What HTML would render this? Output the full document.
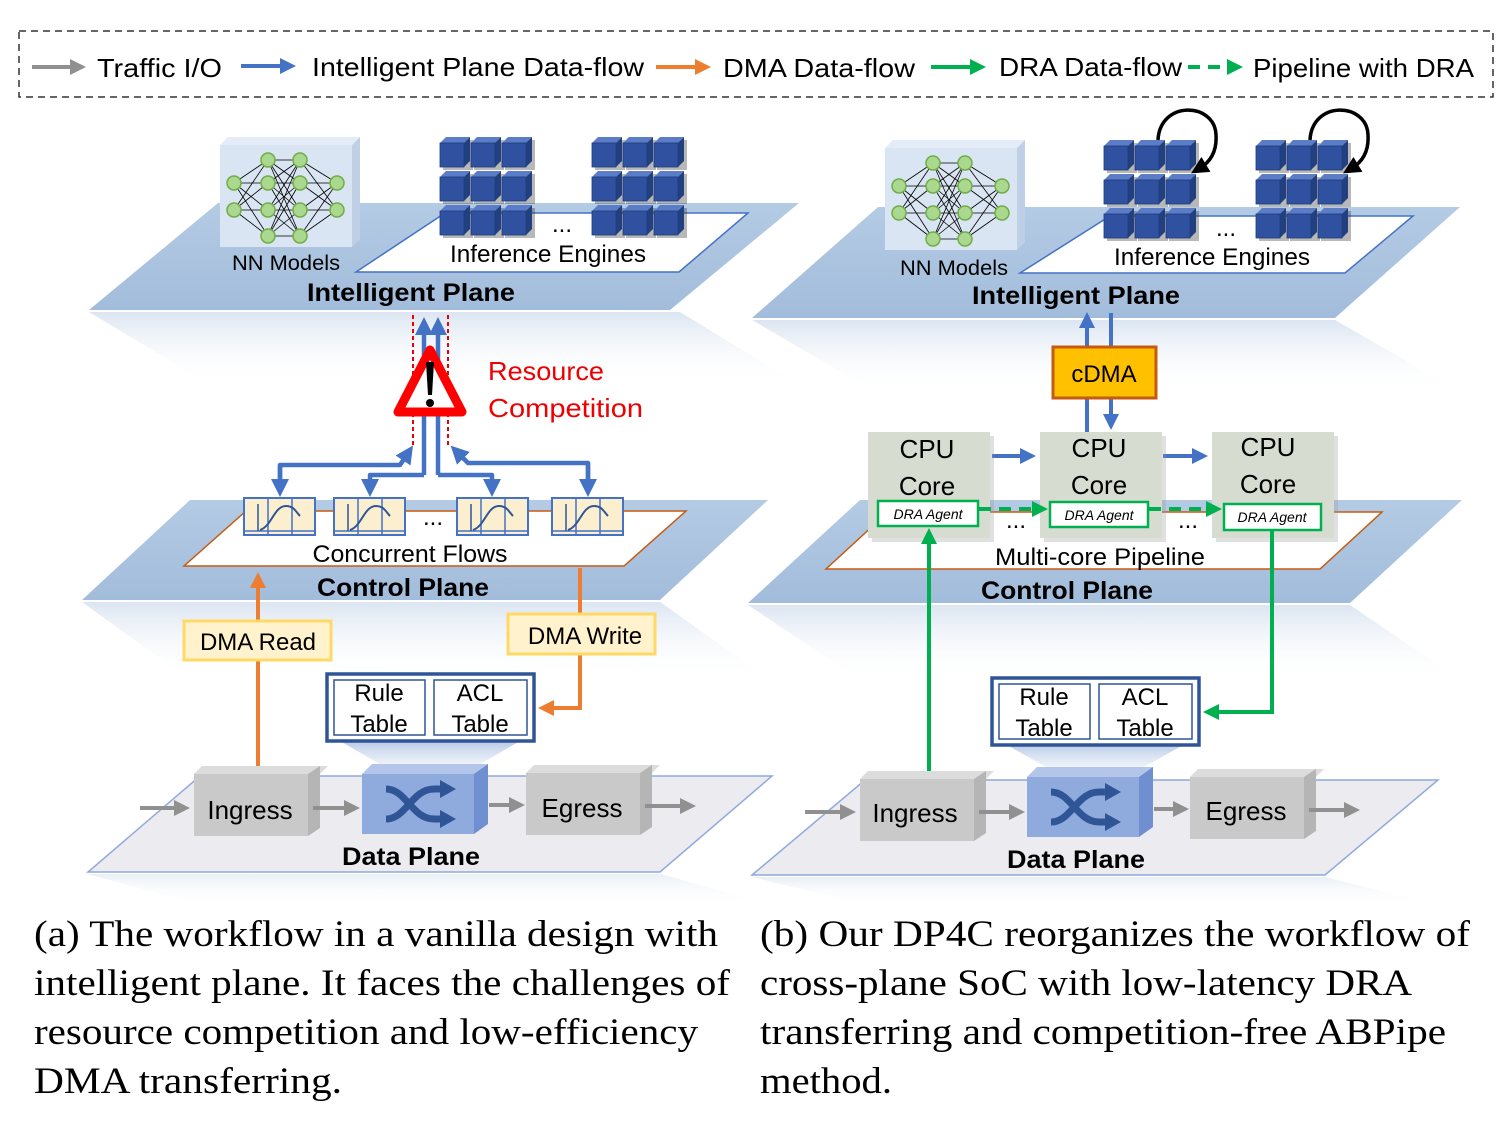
<!DOCTYPE html>
<html><head><meta charset="utf-8"><style>
html,body{margin:0;padding:0;background:#fff;}
svg{display:block;}
text{font-family:"Liberation Sans",sans-serif;}
.cap text{font-family:"Liberation Serif",serif;font-size:37px;fill:#000;}
.lbl{font-size:24px;fill:#000;}
.b{font-size:25px;font-weight:bold;fill:#000;}
</style></head><body>
<svg width="1496" height="1121" viewBox="0 0 1496 1121" xmlns="http://www.w3.org/2000/svg">
<defs>
<marker id="mg" markerWidth="4" markerHeight="4" refX="2" refY="2" orient="auto" markerUnits="strokeWidth"><path d="M0,0L4,2L0,4z" fill="#909090"/></marker>
<marker id="mb" markerWidth="4" markerHeight="4" refX="2" refY="2" orient="auto" markerUnits="strokeWidth"><path d="M0,0L4,2L0,4z" fill="#4472c4"/></marker>
<marker id="mo" markerWidth="4" markerHeight="4" refX="2" refY="2" orient="auto" markerUnits="strokeWidth"><path d="M0,0L4,2L0,4z" fill="#ed7d31"/></marker>
<marker id="mgr" markerWidth="4" markerHeight="4" refX="2" refY="2" orient="auto" markerUnits="strokeWidth"><path d="M0,0L4,2L0,4z" fill="#00b050"/></marker>
<marker id="mk" markerWidth="5" markerHeight="5" refX="2" refY="2.5" orient="auto" markerUnits="strokeWidth"><path d="M0,0L5,2.5L0,5z" fill="#000"/></marker>
<linearGradient id="gp" x1="0" y1="0" x2="0" y2="1"><stop offset="0" stop-color="#b4cbe4"/><stop offset="1" stop-color="#a2bcdb"/></linearGradient>
<linearGradient id="gr" x1="0" y1="0" x2="0" y2="1"><stop offset="0" stop-color="#dbe5f1"/><stop offset="1" stop-color="#ffffff" stop-opacity="0"/></linearGradient>
<linearGradient id="gt" x1="0" y1="0" x2="0" y2="1"><stop offset="0" stop-color="#b7c9e6"/><stop offset="1" stop-color="#dfe7f4" stop-opacity="0.3"/></linearGradient>
<g id="cube"><rect x="3" y="3" width="30" height="30" fill="#333" opacity="0.35"/><polygon points="0,6 6,0 30,0 24,6" fill="#5b7cc6"/><polygon points="24,6 30,0 30,24 24,30" fill="#22407f"/><rect x="0" y="6" width="24" height="24" fill="#2f51a0" stroke="#1f3a7a" stroke-width="0.8"/></g>
<g id="grid">
<use href="#cube" x="0" y="0"/><use href="#cube" x="31" y="0"/><use href="#cube" x="62" y="0"/>
<use href="#cube" x="0" y="34"/><use href="#cube" x="31" y="34"/><use href="#cube" x="62" y="34"/>
<use href="#cube" x="0" y="68"/><use href="#cube" x="31" y="68"/><use href="#cube" x="62" y="68"/>
</g>
<g id="nn">
<polygon points="0,8 8,0 140,0 132,8" fill="#e3ecf7"/>
<polygon points="132,8 140,0 140,102 132,110" fill="#bfd0e6"/>
<rect x="0" y="8" width="132" height="102" fill="#dae5f3"/>
<path stroke="#000" stroke-width="0.8" fill="none" d="M14 46L48 23M14 46L48 46M14 46L48 73M14 46L48 99M14 73L48 23M14 73L48 46M14 73L48 73M14 73L48 99
M48 23L80 23M48 23L80 46M48 23L80 73M48 23L80 99M48 46L80 23M48 46L80 46M48 46L80 73M48 46L80 99M48 73L80 23M48 73L80 46M48 73L80 73M48 73L80 99M48 99L80 23M48 99L80 46M48 99L80 73M48 99L80 99
M80 23L117 46M80 23L117 73M80 46L117 46M80 46L117 73M80 73L117 46M80 73L117 73M80 99L117 46M80 99L117 73"/>
<g fill="#a9d88e" stroke="#70ad47" stroke-width="1.5">
<circle cx="14" cy="46" r="7"/><circle cx="14" cy="73" r="7"/>
<circle cx="48" cy="23" r="7"/><circle cx="48" cy="46" r="7"/><circle cx="48" cy="73" r="7"/><circle cx="48" cy="99" r="7"/>
<circle cx="80" cy="23" r="7"/><circle cx="80" cy="46" r="7"/><circle cx="80" cy="73" r="7"/><circle cx="80" cy="99" r="7"/>
<circle cx="117" cy="46" r="7"/><circle cx="117" cy="73" r="7"/>
</g></g>
<g id="flow">
<rect x="0" y="0" width="71" height="37" fill="#fcefd0" stroke="#4472c4" stroke-width="2"/>
<line x1="24" y1="0" x2="24" y2="37" stroke="#4472c4" stroke-width="1.5"/><line x1="48" y1="0" x2="48" y2="37" stroke="#4472c4" stroke-width="1.5"/>
<line x1="0" y1="33" x2="71" y2="33" stroke="#4472c4" stroke-width="1.5"/>
<line x1="14" y1="6" x2="14" y2="33" stroke="#2f5597" stroke-width="1.5"/>
<path d="M16 32 C28 28 30 8 42 8 C50 8 52 14 56 18" stroke="#2f5597" stroke-width="2" fill="none"/>
</g>
<g id="gbox"><polygon points="0,8 8,0 134,0 126,8" fill="#dcdcdc"/><polygon points="114,8 126,0 126,62 114,70" fill="#b5b5b5"/><rect x="0" y="8" width="114" height="62" fill="#c9c9c9"/></g>
<g id="sw"><polygon points="0,10 10,0 126,0 116,10" fill="#b3c6ea"/><polygon points="112,10 126,0 126,60 112,70" fill="#6f8fd0"/><rect x="0" y="10" width="112" height="60" fill="#8faadc"/>
<path d="M24 25 C44 25 50 55 72 55 L80 55 M24 55 C44 55 50 25 72 25 L80 25" stroke="#2f5597" stroke-width="7" fill="none"/>
<path d="M78 16 L94 25 L78 34z M78 46 L94 55 L78 64z" fill="#2f5597"/></g>
<g id="table"><rect x="0" y="0" width="207" height="67" fill="#fff" stroke="#2f5597" stroke-width="3.5"/>
<rect x="7" y="6" width="91" height="55" fill="#fff" stroke="#2f5597" stroke-width="1.5"/><rect x="107" y="6" width="93" height="55" fill="#fff" stroke="#2f5597" stroke-width="1.5"/>
<text x="52" y="27" class="lbl" text-anchor="middle">Rule</text><text x="52" y="58" class="lbl" text-anchor="middle">Table</text>
<text x="153" y="27" class="lbl" text-anchor="middle">ACL</text><text x="153" y="58" class="lbl" text-anchor="middle">Table</text></g>
<g id="cpu"><rect x="4" y="4" width="122" height="106" fill="#999" opacity="0.3"/><rect x="0" y="0" width="122" height="106" fill="#d6ddd0"/></g>
</defs>

<!-- legend -->
<rect x="19" y="31" width="1474" height="66" fill="none" stroke="#333" stroke-width="1.5" stroke-dasharray="7,5"/>
<g stroke-width="4" fill="none">
<line x1="32" y1="67" x2="78" y2="67" stroke="#909090" marker-end="url(#mg)"/>
<line x1="241" y1="66" x2="288" y2="66" stroke="#4472c4" marker-end="url(#mb)"/>
<line x1="656" y1="67" x2="703" y2="67" stroke="#ed7d31" marker-end="url(#mo)"/>
<line x1="931" y1="67" x2="978" y2="67" stroke="#00b050" marker-end="url(#mgr)"/>
<line x1="1188" y1="67" x2="1235" y2="67" stroke="#00b050" stroke-dasharray="12,8" marker-end="url(#mgr)"/>
</g>
<g class="lbl" style="font-size:26px">
<text x="97" y="77" textLength="125" lengthAdjust="spacingAndGlyphs">Traffic I/O</text>
<text x="312" y="76" textLength="332" lengthAdjust="spacingAndGlyphs">Intelligent Plane Data-flow</text>
<text x="723" y="77" textLength="192" lengthAdjust="spacingAndGlyphs">DMA Data-flow</text>
<text x="999" y="76" textLength="183" lengthAdjust="spacingAndGlyphs">DRA Data-flow</text>
<text x="1253" y="77" textLength="221" lengthAdjust="spacingAndGlyphs">Pipeline with DRA</text>
</g>

<!-- ================= LEFT PANEL ================= -->
<polygon points="89,312 680,312 800,385 210,385" fill="url(#gr)"/>
<polygon points="89,310 670,310 799,203 218,203" fill="url(#gp)"/>
<use href="#nn" x="220" y="137"/>
<polygon points="356,272 679,272 748,213 445,213" fill="#fff" stroke="#4472c4" stroke-width="1.5"/>
<use href="#grid" x="440" y="137"/>
<use href="#grid" x="592" y="137"/>
<text x="562" y="232" class="lbl" text-anchor="middle">...</text>
<text x="548" y="262" class="lbl" text-anchor="middle" textLength="196" lengthAdjust="spacingAndGlyphs">Inference Engines</text>
<text x="286" y="270" class="lbl" text-anchor="middle" style="font-size:21px" textLength="108" lengthAdjust="spacingAndGlyphs">NN Models</text>
<text x="411" y="301" class="b" text-anchor="middle" textLength="208" lengthAdjust="spacingAndGlyphs">Intelligent Plane</text>

<polygon points="82,602 660,602 770,680 190,680" fill="url(#gr)"/>
<polygon points="82,600 660,600 768,500 190,500" fill="url(#gp)"/>
<polygon points="184,566 624,566 686,511 246,511" fill="#fff" stroke="#c55a11" stroke-width="1.5"/>
<use href="#flow" x="244" y="498"/><use href="#flow" x="334" y="498"/><use href="#flow" x="457" y="498"/><use href="#flow" x="552" y="498"/>
<text x="433" y="525" class="lbl" text-anchor="middle">...</text>
<text x="410" y="562" class="lbl" text-anchor="middle" textLength="195" lengthAdjust="spacingAndGlyphs">Concurrent Flows</text>
<text x="403" y="596" class="b" text-anchor="middle" textLength="172" lengthAdjust="spacingAndGlyphs">Control Plane</text>

<g stroke="#e00" stroke-width="2" stroke-dasharray="4,3"><line x1="413" y1="315" x2="413" y2="445"/><line x1="448" y1="315" x2="448" y2="445"/></g>
<g stroke="#4472c4" stroke-width="4.5" fill="none" stroke-linejoin="round">
<line x1="424" y1="475" x2="424" y2="326" marker-end="url(#mb)"/>
<line x1="438" y1="475" x2="438" y2="326" marker-end="url(#mb)"/>
<path d="M424 475 L370 475 L370 488" marker-end="url(#mb)"/>
<path d="M438 475 L492 475 L492 488" marker-end="url(#mb)"/>
<path d="M280 488 L280 465 L400 465 L408 453" marker-end="url(#mb)"/>
<path d="M280 465 L280 488" marker-end="url(#mb)"/>
<path d="M588 488 L588 463 L468 463 L457 452" marker-end="url(#mb)"/>
<path d="M588 463 L588 488" marker-end="url(#mb)"/>
</g>
<polygon points="430,350 398,412 462,412" fill="#fff" stroke="#f00" stroke-width="9" stroke-linejoin="round"/>
<path d="M426 362 L434 362 L432 395 L428 395z" fill="#000"/><circle cx="430" cy="403" r="4" fill="#000"/>
<text x="488" y="380" style="font-size:26px" fill="#e00" textLength="116" lengthAdjust="spacingAndGlyphs">Resource</text>
<text x="488" y="417" style="font-size:26px" fill="#e00" textLength="155" lengthAdjust="spacingAndGlyphs">Competition</text>

<polygon points="88,874 660,874 772,905 200,905" fill="url(#gr)" opacity="0.6"/>
<polygon points="88,872 660,872 772,776 200,776" fill="#ececf0" stroke="#8faadc" stroke-width="1.5"/>
<polygon points="340,741 520,741 470,770 390,770" fill="url(#gt)"/>
<use href="#table" x="327" y="674"/>
<g stroke="#ed7d31" stroke-width="4" fill="none">
<line x1="258" y1="775" x2="258" y2="580" marker-end="url(#mo)"/>
<path d="M580 568 L580 708 L546 708" marker-end="url(#mo)"/>
</g>
<rect x="184" y="621" width="147" height="39" fill="#fff2cc" stroke="#ffd966" stroke-width="3"/>
<text x="258" y="650" class="lbl" text-anchor="middle">DMA Read</text>
<rect x="508" y="614" width="147" height="40" fill="#fff2cc" stroke="#ffd966" stroke-width="3"/>
<text x="585" y="644" class="lbl" text-anchor="middle">DMA Write</text>
<use href="#gbox" x="194" y="766"/>
<use href="#sw" x="362" y="764"/>
<use href="#gbox" x="526" y="765"/>
<text x="250" y="819" class="lbl" style="font-size:26px" text-anchor="middle">Ingress</text>
<text x="582" y="817" class="lbl" style="font-size:26px" text-anchor="middle">Egress</text>
<g stroke="#909090" stroke-width="4" fill="none">
<line x1="140" y1="808" x2="182" y2="808" marker-end="url(#mg)"/>
<line x1="313" y1="808" x2="352" y2="808" marker-end="url(#mg)"/>
<line x1="489" y1="805" x2="517" y2="805" marker-end="url(#mg)"/>
<line x1="645" y1="806" x2="688" y2="806" marker-end="url(#mg)"/>
</g>
<text x="411" y="865" class="b" text-anchor="middle" textLength="138" lengthAdjust="spacingAndGlyphs">Data Plane</text>

<!-- ================= RIGHT PANEL ================= -->
<polygon points="752,320 1335,320 1460,392 875,392" fill="url(#gr)"/>
<polygon points="752,318 1335,318 1460,207 878,207" fill="url(#gp)"/>
<use href="#nn" x="885" y="140"/>
<polygon points="1020,273 1345,273 1413,216 1110,216" fill="#fff" stroke="#4472c4" stroke-width="1.5"/>
<use href="#grid" x="1104" y="140"/>
<use href="#grid" x="1256" y="140"/>
<g stroke="#000" stroke-width="3.5" fill="none">
<path d="M1158 140 C1160 100 1215 102 1216 135 C1217 152 1210 162 1200 168" marker-end="url(#mk)"/>
<path d="M1310 140 C1312 100 1367 102 1368 135 C1369 152 1362 162 1352 168" marker-end="url(#mk)"/>
</g>
<text x="1226" y="236" class="lbl" text-anchor="middle">...</text>
<text x="1212" y="265" class="lbl" text-anchor="middle" textLength="196" lengthAdjust="spacingAndGlyphs">Inference Engines</text>
<text x="954" y="275" class="lbl" text-anchor="middle" style="font-size:21px" textLength="108" lengthAdjust="spacingAndGlyphs">NN Models</text>
<text x="1076" y="304" class="b" text-anchor="middle" textLength="208" lengthAdjust="spacingAndGlyphs">Intelligent Plane</text>

<polygon points="748,605 1350,605 1460,680 860,680" fill="url(#gr)"/>
<polygon points="748,603 1350,603 1462,500 860,500" fill="url(#gp)"/>
<polygon points="826,569 1320,569 1382,512 888,512" fill="#fff" stroke="#c55a11" stroke-width="1.5"/>
<text x="1100" y="565" class="lbl" text-anchor="middle" textLength="210" lengthAdjust="spacingAndGlyphs">Multi-core Pipeline</text>
<text x="1067" y="599" class="b" text-anchor="middle" textLength="172" lengthAdjust="spacingAndGlyphs">Control Plane</text>

<g stroke="#4472c4" stroke-width="4" fill="none">
<line x1="1087" y1="347" x2="1087" y2="320" marker-end="url(#mb)"/>
<line x1="1111" y1="313" x2="1111" y2="347"/>
<line x1="1087" y1="399" x2="1087" y2="432"/>
<line x1="1111" y1="399" x2="1111" y2="422" marker-end="url(#mb)"/>
<line x1="992" y1="456" x2="1028" y2="456" marker-end="url(#mb)"/>
<line x1="1163" y1="456" x2="1200" y2="456" marker-end="url(#mb)"/>
</g>
<rect x="1053" y="347" width="103" height="51" fill="#ffc000" stroke="#c55a11" stroke-width="3"/>
<text x="1104" y="382" class="lbl" text-anchor="middle">cDMA</text>
<use href="#cpu" x="868" y="432"/><use href="#cpu" x="1040" y="432"/><use href="#cpu" x="1212" y="432"/>
<g class="lbl" style="font-size:26px" text-anchor="middle">
<text x="927" y="458">CPU</text><text x="927" y="495">Core</text>
<text x="1099" y="457">CPU</text><text x="1099" y="494">Core</text>
<text x="1268" y="456">CPU</text><text x="1268" y="493">Core</text>
</g>
<g stroke="#00b050" stroke-width="4" fill="none">
<line x1="979" y1="509" x2="1040" y2="509" stroke-dasharray="12,8" marker-end="url(#mgr)"/>
<line x1="1149" y1="509" x2="1214" y2="509" stroke-dasharray="12,8" marker-end="url(#mgr)"/>
<line x1="929" y1="775" x2="929" y2="536" marker-end="url(#mgr)"/>
<path d="M1272 530 L1272 712 L1211 712" marker-end="url(#mgr)"/>
</g>
<g fill="#fff" stroke="#00b050" stroke-width="2.5">
<rect x="878" y="501" width="100" height="25"/><rect x="1050" y="502" width="98" height="25"/><rect x="1224" y="504" width="97" height="26"/>
</g>
<g style="font-size:14px;font-style:italic" text-anchor="middle" fill="#000">
<text x="928" y="519">DRA Agent</text><text x="1099" y="520">DRA Agent</text><text x="1272" y="522">DRA Agent</text>
</g>
<text x="1016" y="528" class="lbl" text-anchor="middle">...</text>
<text x="1188" y="528" class="lbl" text-anchor="middle">...</text>

<polygon points="752,877 1325,877 1438,905 865,905" fill="url(#gr)" opacity="0.6"/>
<polygon points="752,875 1325,875 1438,780 865,780" fill="#ececf0" stroke="#8faadc" stroke-width="1.5"/>
<polygon points="1005,744 1185,744 1135,772 1055,772" fill="url(#gt)"/>
<use href="#table" x="992" y="678"/>
<use href="#gbox" x="860" y="771"/>
<use href="#sw" x="1027" y="767"/>
<use href="#gbox" x="1190" y="769"/>
<text x="915" y="822" class="lbl" style="font-size:26px" text-anchor="middle">Ingress</text>
<text x="1246" y="820" class="lbl" style="font-size:26px" text-anchor="middle">Egress</text>
<g stroke="#909090" stroke-width="4" fill="none">
<line x1="805" y1="812" x2="848" y2="812" marker-end="url(#mg)"/>
<line x1="979" y1="812" x2="1017" y2="812" marker-end="url(#mg)"/>
<line x1="1154" y1="809" x2="1181" y2="809" marker-end="url(#mg)"/>
<line x1="1309" y1="810" x2="1352" y2="810" marker-end="url(#mg)"/>
</g>
<text x="1076" y="868" class="b" text-anchor="middle" textLength="138" lengthAdjust="spacingAndGlyphs">Data Plane</text>

<g class="cap">
<text x="34" y="946" textLength="684" lengthAdjust="spacingAndGlyphs">(a) The workflow in a vanilla design with</text>
<text x="34" y="995" textLength="696" lengthAdjust="spacingAndGlyphs">intelligent plane. It faces the challenges of</text>
<text x="34" y="1044" textLength="664" lengthAdjust="spacingAndGlyphs">resource competition and low-efficiency</text>
<text x="34" y="1093" textLength="308" lengthAdjust="spacingAndGlyphs">DMA transferring.</text>
<text x="760" y="946" textLength="710" lengthAdjust="spacingAndGlyphs">(b) Our DP4C reorganizes the workflow of</text>
<text x="760" y="995" textLength="652" lengthAdjust="spacingAndGlyphs">cross-plane SoC with low-latency DRA</text>
<text x="760" y="1044" textLength="686" lengthAdjust="spacingAndGlyphs">transferring and competition-free ABPipe</text>
<text x="760" y="1093" textLength="132" lengthAdjust="spacingAndGlyphs">method.</text>
</g>
</svg>
</body></html>
